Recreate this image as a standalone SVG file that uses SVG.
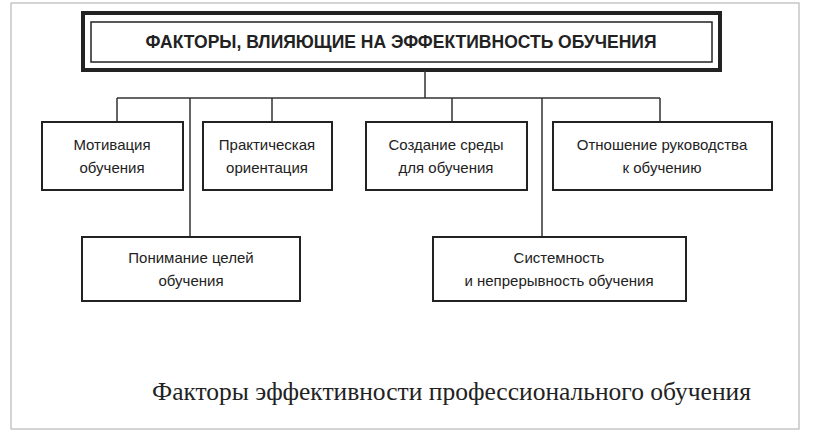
<svg xmlns="http://www.w3.org/2000/svg" width="814" height="436" viewBox="0 0 814 436">
<style>
.b{fill:#fff;stroke:#222;stroke-width:2}
.t{font-family:"Liberation Sans",Arial,sans-serif;font-size:15px;fill:#222;text-anchor:middle}
.c{stroke:#333;stroke-width:1.5;fill:none}
</style>
<rect width="814" height="436" fill="#fff"/>
<rect x="11" y="3" width="788" height="426" fill="none" stroke="#aaa" stroke-width="1"/>
<g id="title">
<rect x="83" y="13" width="637" height="57" fill="#fff" stroke="#222" stroke-width="4"/>
<rect x="91" y="22" width="621" height="40" fill="none" stroke="#222" stroke-width="1.5"/>
<text x="401" y="48" class="t" style="font-weight:bold;font-size:17.5px">ФАКТОРЫ, ВЛИЯЮЩИЕ НА ЭФФЕКТИВНОСТЬ ОБУЧЕНИЯ</text>
</g>
<g id="connectors">
<path class="c" d="M425 70V98M117 98H660M117 98V122M272 98V122M452 98V122M660 98V122M190 98V237M542 98V237"/>
</g>
<g id="n1"><rect class="b" x="42" y="122" width="141" height="68"/><text class="t" x="112" y="150">Мотивация</text><text class="t" x="112" y="173">обучения</text></g>
<g id="n2"><rect class="b" x="203" y="122" width="129" height="68"/><text class="t" x="267" y="150">Практическая</text><text class="t" x="267" y="173">ориентация</text></g>
<g id="n3"><rect class="b" x="366" y="122" width="161" height="68"/><text class="t" x="446" y="150">Создание среды</text><text class="t" x="446" y="173">для обучения</text></g>
<g id="n4"><rect class="b" x="553" y="122" width="219" height="68"/><text class="t" x="662" y="150">Отношение руководства</text><text class="t" x="662" y="173">к обучению</text></g>
<g id="n5"><rect class="b" x="82" y="237" width="218" height="64"/><text class="t" x="191" y="263">Понимание целей</text><text class="t" x="191" y="286">обучения</text></g>
<g id="n6"><rect class="b" x="433" y="237" width="253" height="64"/><text class="t" x="559" y="263">Системность</text><text class="t" x="559" y="286">и непрерывность обучения</text></g>
<text x="152" y="400" style="font-family:'Liberation Serif','Times New Roman',serif;font-size:25.5px;fill:#222">Факторы эффективности профессионального обучения</text>
</svg>
